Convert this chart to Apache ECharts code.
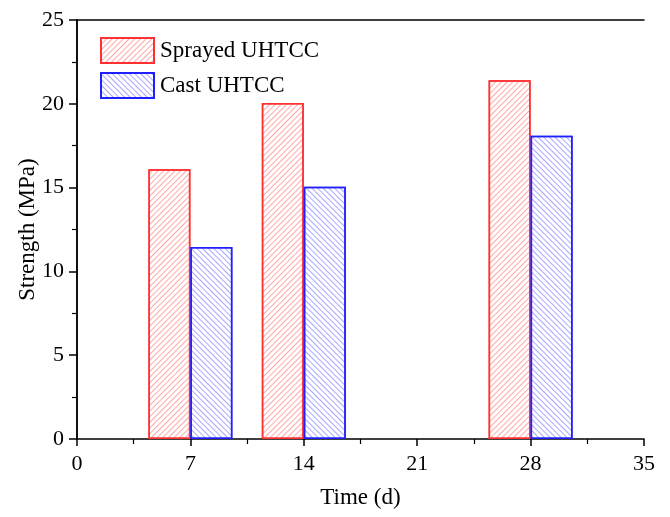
<!DOCTYPE html>
<html>
<head>
<meta charset="utf-8">
<script src="https://cdn.jsdelivr.net/npm/echarts@6/dist/echarts.min.js"></script>
<style>html,body{margin:0;padding:0;background:#fff}#c{width:670px;height:517px}</style>
</head>
<body>
<div id="c"></div>
<script>
const times = [7, 14, 28];
const sprayed = [16.1, 20.05, 21.4];
const cast = [11.45, 15.05, 18.1];
const seriesNames = ['Sprayed UHTCC', 'Cast UHTCC'];
const xTicks = [0, 7, 14, 21, 28, 35];
const yTicks = [0, 5, 10, 15, 20, 25];

function hatchDecal(color, dir) {
  return {
    symbol: 'rect', symbolSize: 1, color: color,
    dashArrayX: [1, 0], dashArrayY: [1, 2.8],
    rotation: dir > 0 ? -Math.PI / 4 : Math.PI / 4
  };
}

const font = '"Liberation Serif", "Times New Roman", serif';
const chart = echarts.init(document.getElementById('c'), null, {renderer: 'canvas'});
const barW = 42;
chart.setOption({
  animation: false,
  grid: {left: 77, right: 26, top: 20, bottom: 78},
  legend: {
    left: 100, top: 37, orient: 'vertical', padding: 0, icon: 'rect',
    itemWidth: 53, itemHeight: 25, itemGap: 8,
    textStyle: {fontFamily: font, fontSize: 23, color: '#000', padding: [0, 0, 0, 1]},
    data: seriesNames
  },
  xAxis: [{
    type: 'value', min: 0, max: 35, interval: 7,
    name: 'Time (d)', nameLocation: 'middle', nameGap: 47, nameMoveOverlap: false,
    nameTextStyle: {fontFamily: font, fontSize: 23, color: '#000'},
    axisLine: {onZero: false, lineStyle: {color: '#000', width: 1.5}},
    axisTick: {inside: false, length: 7, lineStyle: {color: '#000', width: 1.5}},
    minorTick: {show: true, splitNumber: 2, length: 5, lineStyle: {color: '#000', width: 1.2}},
    axisLabel: {fontFamily: font, fontSize: 22, color: '#000', margin: 14,
      formatter: v => xTicks.includes(v) ? String(v) : ''},
    splitLine: {show: false}
  }, {
    type: 'value', min: 0, max: 35, position: 'top',
    axisLine: {show: true, onZero: false, lineStyle: {color: '#000', width: 1.5}},
    axisTick: {show: false}, axisLabel: {show: false}, splitLine: {show: false}
  }],
  yAxis: [{
    type: 'value', min: 0, max: 25, interval: 5,
    name: 'Strength (MPa)', nameLocation: 'middle', nameGap: 38, nameMoveOverlap: false,
    nameTextStyle: {fontFamily: font, fontSize: 23, color: '#000'},
    axisLine: {show: true, lineStyle: {color: '#000', width: 1.5}},
    axisTick: {show: true, inside: false, length: 8, lineStyle: {color: '#000', width: 1.5}},
    minorTick: {show: true, splitNumber: 2, length: 5, lineStyle: {color: '#000', width: 1.2}},
    axisLabel: {fontFamily: font, fontSize: 22, color: '#000', margin: 13,
      formatter: v => yTicks.includes(v) ? String(v) : ''},
    splitLine: {show: false}
  }, {
    type: 'value', min: 0, max: 25, position: 'right',
    axisLine: {show: true, lineStyle: {color: '#000', width: 1.5}},
    axisTick: {show: false}, axisLabel: {show: false}, splitLine: {show: false}
  }],
  series: [{
    name: seriesNames[0], type: 'bar', barWidth: barW, barGap: '0%',
    data: times.map((t, i) => [t, sprayed[i]]),
    itemStyle: {color: '#ffffff', borderColor: '#ff3030', borderWidth: 1.5,
      decal: hatchDecal('rgba(255,80,80,0.5)', 1)}
  }, {
    name: seriesNames[1], type: 'bar', barWidth: barW, barGap: '0%',
    data: times.map((t, i) => [t, cast[i]]),
    itemStyle: {color: '#ffffff', borderColor: '#2020ff', borderWidth: 1.5,
      decal: hatchDecal('rgba(80,80,255,0.5)', -1)}
  }]
});
</script>
</body>
</html>
